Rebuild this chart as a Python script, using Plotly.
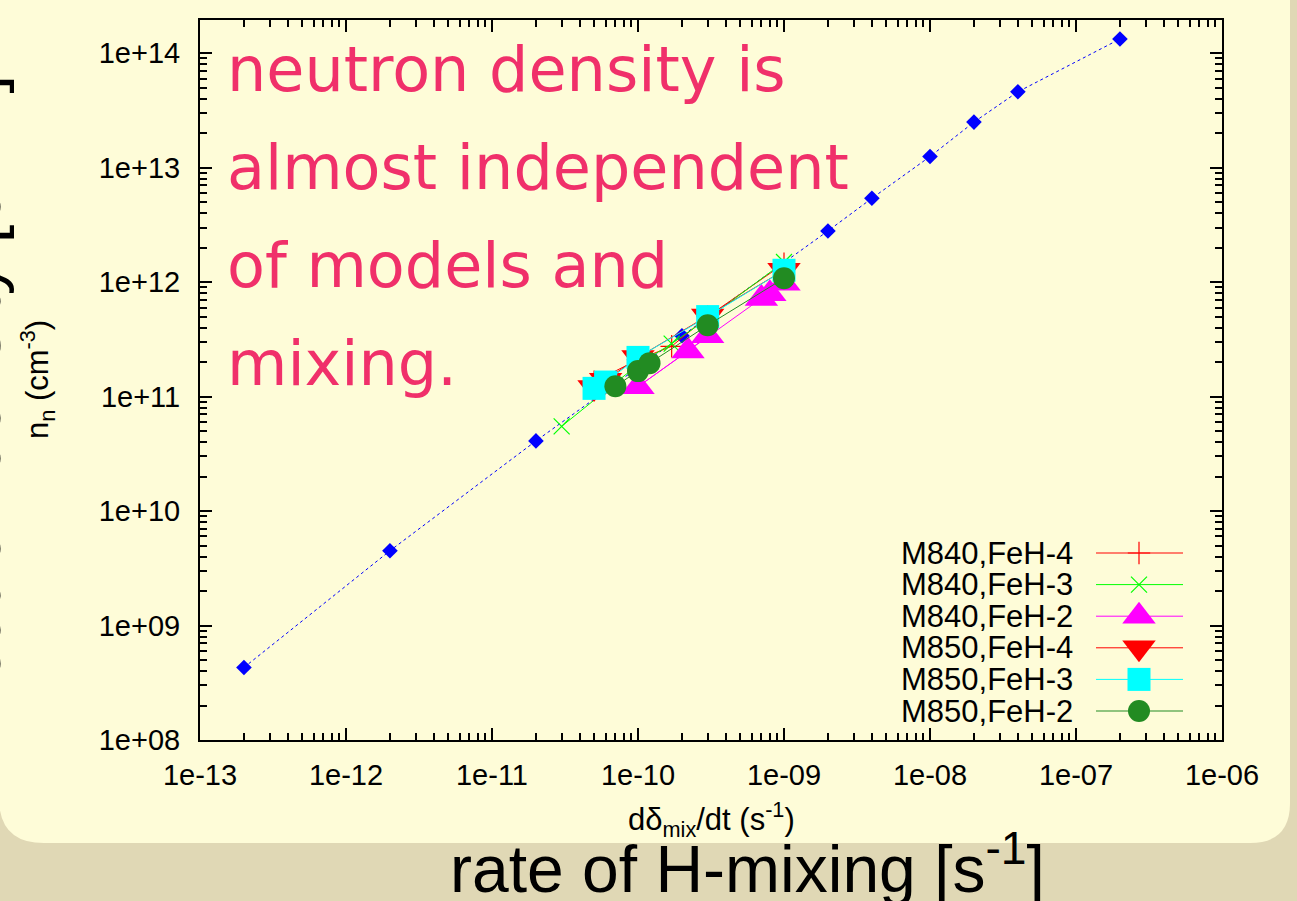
import plotly.graph_objects as go
import numpy as np

# ---------------- data ----------------
ref_x = [2e-13, 2e-12, 2e-11, 2e-10, 2e-9, 4e-9, 1e-8, 2e-8, 4e-8, 2e-7]
ref_y = [4.3e8, 4.5e9, 4.1e10, 3.4e11, 2.8e12, 5.4e12, 1.25e13, 2.5e13, 4.6e13, 1.33e14]

m840_feh4_x = [5e-11, 1e-10, 1.7e-10, 3e-10, 1e-9]
m840_feh4_y = [1.35e11, 2.1e11, 2.75e11, 5.0e11, 1.45e12]

m840_feh3_x = [3e-11, 1e-10, 1.7e-10, 3e-10, 1e-9]
m840_feh3_y = [5.5e10, 1.9e11, 2.9e11, 4.8e11, 1.5e12]

m840_feh2_x = [3e-10, 2.2e-10, 1e-10, 7e-10, 8e-10, 1e-9]
m840_feh2_y = [3.4e11, 2.5e11, 1.22e11, 7.2e11, 7.9e11, 9.8e11]

m850_feh4_x = [5e-11, 6e-11, 1e-10, 3e-10, 1e-9]
m850_feh4_y = [1.2e11, 1.39e11, 2.2e11, 5.05e11, 1.27e12]

m850_feh3_x = [5e-11, 6e-11, 1e-10, 3e-10, 1e-9]
m850_feh3_y = [1.18e11, 1.34e11, 2.2e11, 5.0e11, 1.27e12]

m850_feh2_x = [7e-11, 1e-10, 1.2e-10, 3e-10, 1e-9]
m850_feh2_y = [1.23e11, 1.67e11, 1.96e11, 4.2e11, 1.08e12]

x_tick_vals = [1e-13, 1e-12, 1e-11, 1e-10, 1e-9, 1e-8, 1e-7, 1e-6]
x_tick_text = ["1e-13", "1e-12", "1e-11", "1e-10", "1e-09", "1e-08", "1e-07", "1e-06"]
y_tick_vals = [1e8, 1e9, 1e10, 1e11, 1e12, 1e13, 1e14]
y_tick_text = ["1e+08", "1e+09", "1e+10", "1e+11", "1e+12", "1e+13", "1e+14"]

series_names = ["M840,FeH-4", "M840,FeH-3", "M840,FeH-2", "M850,FeH-4", "M850,FeH-3", "M850,FeH-2"]

# ---------------- styles ----------------
W, H = 1297, 901
L, R, T, B = 200, 1222, 20, 740
BG = "#e0d8b5"
PANEL = "#fefcd8"
PINK = "#f0306a"
FONT = "Liberation Sans"

def px(x):
    return (x - L) / (R - L)

def py(y):
    return (B - y) / (B - T)

styles = [
    dict(color="#ff0000", symbol="cross-thin", size=16, thin=True),
    dict(color="#00ff00", symbol="x-thin", size=16, thin=True),
    dict(color="#ff00ff", symbol="triangle-up", size=29, thin=False),
    dict(color="#ff0000", symbol="triangle-down", size=29, thin=False),
    dict(color="#00ffff", symbol="square", size=23, thin=False),
    dict(color="#228b22", symbol="circle", size=22, thin=False),
]
series = [
    (m840_feh4_x, m840_feh4_y),
    (m840_feh3_x, m840_feh3_y),
    (m840_feh2_x, m840_feh2_y),
    (m850_feh4_x, m850_feh4_y),
    (m850_feh3_x, m850_feh3_y),
    (m850_feh2_x, m850_feh2_y),
]

def marker_for(st):
    if st["thin"]:
        return dict(symbol=st["symbol"], size=st["size"], color=st["color"],
                    line=dict(color=st["color"], width=1.2))
    return dict(symbol=st["symbol"], size=st["size"], color=st["color"], line=dict(width=0))

fig = go.Figure()

fig.add_trace(go.Scatter(x=ref_x, y=ref_y, mode="lines+markers",
                         line=dict(color="#0000ff", width=1, dash="dot"),
                         marker=dict(symbol="diamond", size=12, color="#0000ff", line=dict(width=0)),
                         showlegend=False, cliponaxis=False))

for (xs, ys), st, nm in zip(series, styles, series_names):
    fig.add_trace(go.Scatter(x=xs, y=ys, mode="lines+markers", name=nm,
                             line=dict(color=st["color"], width=1),
                             marker=marker_for(st), showlegend=False))

# ---------------- manual legend (text left of sample, like gnuplot) ----------------
leg_top, leg_step = 553, 31.6
leg_text_right, leg_line_l, leg_line_r, leg_mark = 1075, 1096, 1183, 1139
annotations = []
for i, (nm, st) in enumerate(zip(series_names, styles)):
    yy = py(leg_top + i * leg_step)
    fig.add_trace(go.Scatter(x=[px(leg_line_l), px(leg_line_r)], y=[yy, yy], mode="lines",
                             line=dict(color=st["color"], width=1), xaxis="x2", yaxis="y2",
                             showlegend=False, hoverinfo="skip"))
    fig.add_trace(go.Scatter(x=[px(leg_mark)], y=[yy], mode="markers", marker=marker_for(st),
                             xaxis="x2", yaxis="y2", showlegend=False, hoverinfo="skip"))
    annotations.append(dict(text=nm, x=px(leg_text_right), y=yy, xref="paper", yref="paper",
                            xanchor="right", yanchor="middle", showarrow=False,
                            font=dict(family=FONT, size=31, color="black")))

# ---------------- texts ----------------
red_lines = ["neutron density is", "almost independent", "of models and", "mixing."]
for i, t in enumerate(red_lines):
    annotations.append(dict(text=t, x=px(226), y=py(70 + i * 97.7), xref="paper", yref="paper",
                            xanchor="left", yanchor="middle", showarrow=False, borderpad=0,
                            font=dict(family="DejaVu Sans", size=62, color=PINK)))

annotations.append(dict(text="rate of H-mixing [s<sup>-1</sup>]", x=px(747), y=py(864),
                        xref="paper", yref="paper", xanchor="center", yanchor="middle",
                        showarrow=False, borderpad=0,
                        font=dict(family=FONT, size=66, color="black")))
annotations.append(dict(text="neutron density [cm<sup>-3</sup>]", x=px(-28), y=py(398),
                        xref="paper", yref="paper", xanchor="center", yanchor="middle",
                        textangle=-90, showarrow=False,
                        font=dict(family=FONT, size=67, color="black")))
annotations.append(dict(text="dδ<sub>mix</sub>/dt (s<sup>-1</sup>)", x=px(711), y=py(819),
                        xref="paper", yref="paper", xanchor="center", yanchor="middle",
                        showarrow=False, borderpad=0,
                        font=dict(family=FONT, size=31, color="black")))
annotations.append(dict(text="n<sub>n</sub> (cm<sup>-3</sup>)", x=px(37), y=py(380),
                        xref="paper", yref="paper", xanchor="center", yanchor="middle",
                        textangle=-90, showarrow=False,
                        font=dict(family=FONT, size=31, color="black")))

# ---------------- panel ----------------
pl, pt, pr, pb = -1, -80, 1290, 843
rr, rbl = 40, 45
pts = [
    ("M", [(pl, pt)]),
    ("L", [(pr - rr, pt)]),
    ("Q", [(pr, pt), (pr, pt + rr)]),
    ("L", [(pr, pb - rr)]),
    ("Q", [(pr, pb), (pr - rr, pb)]),
    ("L", [(pl + rbl, pb)]),
    ("Q", [(pl, pb), (pl, pb - rbl)]),
]
path = ""
for cmd, cps in pts:
    path += cmd + " " + " ".join(f"{px(a):.5f},{py(b):.5f}" for a, b in cps) + " "
path += "Z"
shapes = [dict(type="path", path=path, xref="paper", yref="paper", layer="below",
               fillcolor=PANEL, line=dict(width=0))]

minor_x = [m * 10.0 ** e for e in range(-13, -6) for m in range(2, 10)]
minor_y = [m * 10.0 ** e for e in range(8, 15) for m in range(2, 10) if m * 10.0 ** e < 2e14]

axis_common = dict(showline=True, linecolor="black", linewidth=2, mirror="ticks",
                   ticks="inside", ticklen=12, tickwidth=1.5, tickcolor="black",
                   showgrid=False, zeroline=False,
                   tickfont=dict(family=FONT, size=29, color="black"))

fig.update_layout(
    width=W, height=H,
    margin=dict(l=L, r=W - R, t=T, b=H - B, pad=0),
    paper_bgcolor=BG, plot_bgcolor="rgba(0,0,0,0)",
    showlegend=False,
    xaxis=dict(type="log", range=[-13, -6], tickmode="array", tickvals=x_tick_vals,
               ticktext=x_tick_text, ticklabelstandoff=8,
               minor=dict(ticks="inside", ticklen=7, tickwidth=1.5, tickcolor="black",
                          tickmode="array", tickvals=minor_x, showgrid=False),
               **axis_common),
    yaxis=dict(type="log", range=[8, 14.29], tickmode="array", tickvals=y_tick_vals,
               ticktext=y_tick_text, ticklabelstandoff=12,
               minor=dict(ticks="inside", ticklen=7, tickwidth=1.5, tickcolor="black",
                          tickmode="array", tickvals=minor_y, showgrid=False),
               **axis_common),
    xaxis2=dict(overlaying="x", range=[0, 1], visible=False, anchor="y2"),
    yaxis2=dict(overlaying="y", range=[0, 1], visible=False, anchor="x2"),
    annotations=annotations,
    shapes=shapes,
)

fig.write_html("out.html")
